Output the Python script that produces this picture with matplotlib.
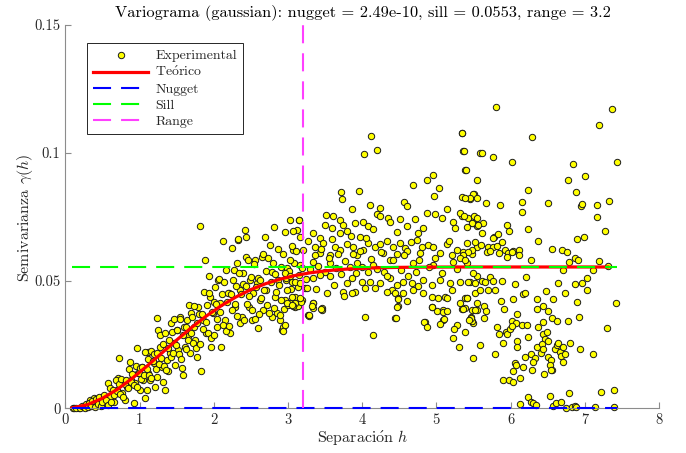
import matplotlib
matplotlib.use("Agg")
import matplotlib.pyplot as plt
import numpy as np

plt.rcParams["font.family"] = "serif"
plt.rcParams["font.serif"] = ["cmr10", "DejaVu Serif"]
plt.rcParams["mathtext.fontset"] = "cm"
plt.rcParams["axes.unicode_minus"] = False
plt.rcParams["axes.formatter.use_mathtext"] = True
plt.rcParams["lines.scale_dashes"] = False

# --- model parameters (from the title) ---
NUGGET = 2.49e-10
SILL = 0.0553
RANGE = 3.2
H_MIN, H_MAX = 0.09, 7.43

# --- experimental cloud (h, gamma) ---
pts_low = [
    (0.11, 0.0), (0.18, 0.0), (0.24, 0.0007), (0.33, 0.0033), (0.38, 0.004), (0.42, 0.002),
    (0.47, 0.0033), (0.51, 0.0013), (0.58, 0.0098), (0.6, 0.0046), (0.65, 0.0026), (0.69, 0.0072),
    (0.71, 0.0117), (0.73, 0.0196), (0.76, 0.0059), (0.8, 0.0033), (0.83, 0.0085), (0.87, 0.0183),
    (0.89, 0.0111), (0.92, 0.002), (0.94, 0.0098), (0.96, 0.0235), (0.98, 0.0137), (1.01, 0.0072),
    (1.03, 0.0163), (1.05, 0.0111), (1.07, 0.0039), (1.10, 0.0072), (1.11, 0.0222), (1.12, 0.0137),
    (1.14, 0.0111), (1.19, 0.0176), (1.21, 0.0085), (1.23, 0.0124), (1.24, 0.0352), (1.25, 0.0307),
    (1.28, 0.0241), (1.30, 0.0163), (1.32, 0.0104), (1.34, 0.0072), (1.37, 0.0189), (1.39, 0.0144),
    (1.41, 0.0215), (1.43, 0.0333), (1.46, 0.0255), (1.48, 0.017), (1.50, 0.0307), (1.52, 0.0228),
    (1.55, 0.0359), (1.57, 0.0157), (1.59, 0.0131), (1.61, 0.0241), (1.64, 0.0346), (1.66, 0.0281),
    (1.68, 0.0215), (1.70, 0.0372), (1.73, 0.032), (1.75, 0.0268), (1.77, 0.0202), (1.79, 0.0398),
    (1.82, 0.0715), (1.83, 0.0144), (1.86, 0.0346), (1.88, 0.0581), (1.90, 0.0294), (1.93, 0.0516),
    (1.95, 0.0437), (1.97, 0.0241), (1.99, 0.0372), (2.02, 0.0476), (2.04, 0.032), (2.06, 0.0503),
    (2.08, 0.0411), (2.10, 0.0241), (2.13, 0.0653), (2.15, 0.0346), (2.17, 0.0542), (2.20, 0.045),
    (2.22, 0.0294), (2.24, 0.0627), (2.26, 0.0503), (2.29, 0.0398), (2.31, 0.0568), (2.33, 0.0659),
    (2.35, 0.0463), (2.38, 0.0359), (2.40, 0.0529), (2.42, 0.0698), (2.44, 0.0594), (2.47, 0.0398),
    (2.49, 0.0503), (2.51, 0.0346), (2.53, 0.045), (2.56, 0.0581), (2.58, 0.049), (2.60, 0.0313),
    (2.62, 0.0424), (2.65, 0.0594), (2.67, 0.0385), (2.69, 0.0672), (2.71, 0.0463), (2.76, 0.064),
    (2.78, 0.0359), (2.80, 0.0568), (2.83, 0.0437), (2.85, 0.0372), (2.87, 0.0503), (2.89, 0.0346),
    (2.92, 0.0307), (2.94, 0.032), (2.96, 0.0424), (2.98, 0.0503), (3.03, 0.0411), (3.07, 0.062),
    (3.10, 0.0398), (3.12, 0.0698), (3.14, 0.0476),
    (3.03, 0.0737), (3.15, 0.0737), (2.81, 0.0711), (2.44, 0.0671), (2.33, 0.0663),
    (3.19, 0.0424), (3.23, 0.047), (3.275, 0.0365), (3.34, 0.0414), (3.455, 0.0392),
]

pts_dense = [
    (0.12, 0.0003), (0.15, 0.0001), (0.2, 0.0002), (0.22, 0.0009), (0.26, 0.0001), (0.28, 0.0015),
    (0.3, 0.0006), (0.32, 0.0022), (0.35, 0.001), (0.36, 0.0028), (0.4, 0.0005), (0.41, 0.0035),
    (0.44, 0.0018), (0.46, 0.0046), (0.48, 0.0008), (0.5, 0.0026), (0.52, 0.0052), (0.55, 0.0033),
    (0.57, 0.0012), (0.6, 0.008), (0.62, 0.0024), (0.64, 0.0072), (0.66, 0.0052), (0.68, 0.0111),
    (0.7, 0.0066), (0.72, 0.0094), (0.74, 0.0054), (0.75, 0.0116), (0.78, 0.0045), (0.8, 0.0094),
    (0.82, 0.0112), (0.84, 0.008), (0.86, 0.0155), (0.88, 0.0103), (0.9, 0.0135), (0.92, 0.009),
    (0.95, 0.0165), (0.97, 0.0083), (0.99, 0.0138), (1.0, 0.0158), (1.02, 0.0115), (1.04, 0.0162),
    (1.06, 0.0131), (1.08, 0.022), (1.1, 0.0153), (1.12, 0.0194), (1.13, 0.013), (1.15, 0.0226),
    (1.16, 0.012), (1.18, 0.0185), (1.2, 0.0214), (1.22, 0.0155), (1.24, 0.0216), (1.26, 0.0173),
    (1.27, 0.0288), (1.29, 0.0197), (1.31, 0.025), (1.33, 0.0167), (1.35, 0.0293), (1.36, 0.0151),
    (1.38, 0.0236), (1.4, 0.0269), (1.42, 0.0202), (1.44, 0.0297), (1.45, 0.0218), (1.47, 0.0349),
    (1.49, 0.0246), (1.51, 0.0305), (1.53, 0.0211), (1.54, 0.0349), (1.56, 0.0192), (1.58, 0.0287),
    (1.6, 0.0319), (1.62, 0.0232), (1.63, 0.0318), (1.65, 0.0266), (1.67, 0.0404), (1.69, 0.0295),
    (1.71, 0.0356), (1.72, 0.0255), (1.74, 0.0401), (1.76, 0.0235), (1.78, 0.0334), (1.8, 0.0369),
    (1.81, 0.0251), (1.84, 0.0368), (1.85, 0.031), (1.87, 0.0455), (1.89, 0.0339), (1.91, 0.0403),
    (1.92, 0.0295), (1.94, 0.045), (1.96, 0.0274), (1.98, 0.0378), (2.0, 0.0415), (2.01, 0.0285),
    (2.03, 0.041), (2.05, 0.0348), (2.07, 0.0505), (2.09, 0.0377), (2.11, 0.0447), (2.12, 0.0327),
    (2.14, 0.0496), (2.16, 0.0302), (2.18, 0.0415), (2.19, 0.045), (2.21, 0.0321), (2.23, 0.0446),
    (2.25, 0.0383), (2.27, 0.054), (2.28, 0.041), (2.3, 0.048), (2.32, 0.0362), (2.34, 0.053),
    (2.36, 0.0335), (2.37, 0.0447), (2.39, 0.0486), (2.41, 0.0344), (2.43, 0.0479), (2.45, 0.0409),
    (2.46, 0.0579), (2.48, 0.0438), (2.5, 0.0512), (2.52, 0.0383), (2.54, 0.0566), (2.55, 0.0351),
    (2.57, 0.0473), (2.59, 0.0511), (2.61, 0.037), (2.63, 0.0504), (2.64, 0.0433), (2.66, 0.0603),
    (2.68, 0.0462), (2.7, 0.0536), (2.72, 0.0406), (2.73, 0.0587), (2.75, 0.0373), (2.77, 0.0495),
    (2.79, 0.0533), (2.81, 0.0391), (2.82, 0.0524), (2.84, 0.0454), (2.86, 0.0623), (2.88, 0.0481),
    (2.9, 0.0554), (2.91, 0.0423), (2.93, 0.0605), (2.95, 0.039), (2.97, 0.0511), (2.99, 0.0549),
    (3.0, 0.0405), (3.01, 0.0538), (3.04, 0.0468), (3.05, 0.0637), (3.06, 0.0493), (3.08, 0.0567),
    (3.09, 0.0435), (3.11, 0.0616), (3.13, 0.0401), (3.15, 0.0522), (3.16, 0.0559), (3.18, 0.0416),
    (3.19, 0.0548),
]

pts_mid_high = [
    (4.116, 0.1064), (4.206, 0.1009), (4.026, 0.0996), (5.342, 0.1077), (5.365, 0.1005),
    (5.387, 0.0931), (5.59, 0.0999), (3.71, 0.0845), (3.725, 0.0819), (3.96, 0.0849),
    (4.69, 0.0875), (4.87, 0.0892), (4.95, 0.0914), (5.04, 0.0864), (4.97, 0.0832),
    (5.34, 0.0825), (5.46, 0.082), (5.51, 0.084), (4.56, 0.0809), (4.6, 0.0792),
    (3.865, 0.0779), (4.11, 0.0796), (4.24, 0.0783), (3.51, 0.0757), (3.613, 0.0751),
    (3.703, 0.0738), (3.748, 0.0718), (3.50, 0.0718), (3.59, 0.0705), (3.70, 0.0686),
    (3.846, 0.0676), (3.97, 0.0672), (3.905, 0.0725), (4.017, 0.0731), (4.084, 0.0712),
    (4.197, 0.0761), (4.24, 0.0751), (4.354, 0.0744), (4.377, 0.0731), (4.511, 0.074),
    (4.61, 0.0712), (4.713, 0.074), (4.758, 0.0686), (4.87, 0.0764), (4.983, 0.0761),
    (5.073, 0.0744), (5.14, 0.0779), (5.23, 0.0731), (5.253, 0.0705), (5.342, 0.0751),
    (5.432, 0.0744), (5.50, 0.0725), (5.544, 0.0712), (3.343, 0.0686), (3.433, 0.0666),
    (3.164, 0.0672), (3.074, 0.0692), (2.961, 0.0688), (3.155, 0.0735),
]

pts_mid_band = [
    (3.276, 0.0653), (3.366, 0.0633), (3.478, 0.0646), (3.635, 0.0633), (3.792, 0.0644),
    (3.882, 0.0633), (4.017, 0.062), (4.084, 0.0646), (4.174, 0.0633), (4.242, 0.0644),
    (4.421, 0.0633), (4.511, 0.0646), (4.579, 0.0627), (4.736, 0.0659), (4.803, 0.0633),
    (4.893, 0.064), (4.96, 0.0633), (5.14, 0.0644), (5.275, 0.062), (5.41, 0.0646),
    (5.545, 0.0633), (3.208, 0.062), (3.433, 0.0607), (3.568, 0.06), (3.703, 0.062),
    (3.927, 0.06), (4.287, 0.0607), (4.466, 0.0604), (4.601, 0.0614), (4.781, 0.0607),
    (5.05, 0.0607), (5.207, 0.06), (5.477, 0.0604),
    (3.343, 0.0574), (3.568, 0.0568), (3.927, 0.0568), (4.152, 0.0561), (4.377, 0.0581),
    (4.691, 0.0568), (4.96, 0.0561), (5.23, 0.0574), (5.41, 0.0568), (3.029, 0.0581),
    (3.3, 0.0545), (3.36, 0.0598), (3.41, 0.0555), (3.45, 0.0625), (3.5, 0.0535),
    (3.55, 0.0588), (3.6, 0.0662), (3.65, 0.0548), (3.68, 0.0605), (3.72, 0.0525),
    (3.77, 0.0578), (3.8, 0.0692), (3.83, 0.0552), (3.88, 0.0605), (3.92, 0.0528),
    (3.97, 0.0615), (4.0, 0.0552), (4.05, 0.0668), (4.08, 0.0535), (4.12, 0.0585),
    (4.15, 0.0702), (4.2, 0.0545), (4.25, 0.0612), (4.3, 0.0532), (4.34, 0.0655),
    (4.38, 0.0508), (4.42, 0.0582), (4.47, 0.0688), (4.52, 0.0542), (4.57, 0.0598),
    (4.62, 0.0518), (4.66, 0.0652), (4.72, 0.0535), (4.77, 0.0582), (4.82, 0.0705),
    (4.9, 0.0552), (4.98, 0.0588), (5.08, 0.0528), (5.17, 0.0655), (5.28, 0.0545),
    (5.36, 0.0612), (3.38, 0.0468), (3.62, 0.0482), (3.9, 0.0455), (4.18, 0.0472),
    (4.4, 0.0462), (4.75, 0.0478), (3.25, 0.0505), (3.52, 0.0452), (4.6, 0.0418),
]

pts_mid_low = [
    (2.961, 0.0529), (3.029, 0.0516), (3.096, 0.0496), (3.164, 0.049), (3.343, 0.0509),
    (3.433, 0.0522), (3.568, 0.0516), (3.792, 0.049), (3.86, 0.0509), (3.995, 0.0496),
    (4.107, 0.0496), (4.242, 0.049), (4.332, 0.0516), (4.466, 0.0483), (4.556, 0.0496),
    (4.668, 0.049), (4.826, 0.0503), (4.938, 0.0483), (5.05, 0.0503), (5.185, 0.049),
    (5.32, 0.0496), (5.455, 0.0496), (5.545, 0.0516), (2.984, 0.0463), (3.051, 0.0437),
    (3.096, 0.0411), (3.253, 0.047), (3.748, 0.0457), (4.04, 0.047), (4.332, 0.0457),
    (4.444, 0.045), (4.489, 0.0431), (4.556, 0.045), (4.691, 0.0463), (4.826, 0.045),
    (4.938, 0.0437), (5.028, 0.0431), (5.118, 0.0437), (5.207, 0.0463), (5.387, 0.0431),
    (5.522, 0.045), (4.489, 0.0401), (4.938, 0.0398), (5.005, 0.0379), (5.095, 0.0385),
    (5.14, 0.0431), (5.32, 0.0411), (5.387, 0.0392), (5.477, 0.0385), (3.343, 0.0392),
    (3.456, 0.0385), (2.984, 0.0411), (3.074, 0.0401), (3.289, 0.0362), (4.444, 0.0353),
    (4.848, 0.0339), (5.095, 0.0346), (5.455, 0.0349), (5.5, 0.0333), (5.545, 0.0411),
    (3.164, 0.0431),
    (3.051, 0.0405), (2.894, 0.0366), (2.961, 0.0326),
    (2.939, 0.0304), (3.289, 0.0366), (3.343, 0.0414), (3.33, 0.0401), (3.447, 0.0389),
    (3.761, 0.044), (3.86, 0.0453), (4.04, 0.0358), (4.143, 0.0288), (4.453, 0.0354),
    (4.466, 0.0398), (4.489, 0.0427), (4.835, 0.0339), (4.88, 0.0317), (4.938, 0.0398),
    (5.05, 0.0329), (5.109, 0.035), (5.095, 0.0375), (5.14, 0.0382), (5.23, 0.0274),
    (5.275, 0.0326), (5.239, 0.0309), (5.351, 0.0389), (5.41, 0.0431), (5.464, 0.0356),
    (5.477, 0.0343), (5.387, 0.0297), (5.311, 0.0241), (5.5, 0.0196), (5.589, 0.0248),
    (5.545, 0.0385), (5.643, 0.0355),
]

pts_far_high = [
    (5.804, 0.1178), (7.363, 0.1172), (7.197, 0.1107), (5.341, 0.1077), (6.285, 0.106),
    (5.373, 0.1005), (5.611, 0.0999), (5.768, 0.0982), (6.015, 0.0962), (7.43, 0.0962),
    (5.395, 0.0931), (6.846, 0.0957), (7.004, 0.091), (6.779, 0.0894), (5.553, 0.0894),
    (6.24, 0.0855), (6.887, 0.0845), (7.332, 0.0813), (6.15, 0.0806), (6.505, 0.0803),
    (5.665, 0.0803), (5.858, 0.0797), (7.161, 0.0795), (6.945, 0.0792), (6.958, 0.0798),
    (7.17, 0.0747), (5.499, 0.0839), (5.454, 0.0822), (5.544, 0.0822), (5.386, 0.0822),
    (6.159, 0.077), (5.319, 0.0764), (5.373, 0.0751), (5.508, 0.0753), (5.544, 0.0744),
    (5.634, 0.0727), (5.476, 0.0727), (5.418, 0.0711), (5.611, 0.0686), (5.566, 0.0718),
    (5.948, 0.0718), (5.984, 0.0692), (6.24, 0.0701), (7.273, 0.0692), (6.99, 0.0672),
    (6.891, 0.0663), (6.366, 0.0653), (5.782, 0.0672), (5.836, 0.0683), (5.759, 0.0666),
    (5.701, 0.0633), (5.768, 0.0633), (5.813, 0.0636), (5.881, 0.0649), (5.602, 0.064),
    (5.521, 0.0649), (5.476, 0.062), (5.431, 0.061), (5.364, 0.0601), (5.319, 0.0588),
    (5.386, 0.0581), (5.687, 0.061), (5.723, 0.0614), (5.849, 0.0607), (5.925, 0.062),
    (5.97, 0.0607), (6.038, 0.0614), (6.119, 0.062), (6.119, 0.06), (6.015, 0.0611),
    (5.948, 0.0594), (6.271, 0.0581), (6.554, 0.0623), (6.689, 0.0618), (6.766, 0.0611),
    (6.869, 0.0588), (6.914, 0.0581), (7.197, 0.0577), (6.792, 0.0574), (7.116, 0.0542),
    (6.712, 0.0542), (7.318, 0.0557),
]

pts_far_mid = [
    (5.499, 0.0529), (5.431, 0.0496), (5.521, 0.0492), (5.611, 0.05), (5.656, 0.0496),
    (5.723, 0.0513), (5.759, 0.05), (5.881, 0.0499), (6.06, 0.0487), (6.204, 0.0512),
    (6.644, 0.0492), (6.869, 0.0487), (6.959, 0.0492), (7.035, 0.0509), (7.026, 0.0463),
    (6.9, 0.0416), (6.478, 0.0458), (6.352, 0.0427), (6.577, 0.0427), (6.038, 0.0427),
    (5.867, 0.042), (5.791, 0.0461), (5.701, 0.0463), (5.589, 0.0463), (5.409, 0.0431),
    (5.355, 0.0389), (5.521, 0.0385), (5.642, 0.0401), (5.669, 0.0381), (5.916, 0.0388),
    (6.092, 0.0369), (6.442, 0.0401), (6.509, 0.0382), (6.352, 0.0389), (6.442, 0.0339),
    (6.563, 0.0353), (6.622, 0.0343), (6.779, 0.0343), (6.927, 0.0356), (6.015, 0.0343),
    (6.074, 0.0333), (6.15, 0.0324), (6.217, 0.0324), (5.467, 0.0353), (5.445, 0.0346),
    (7.417, 0.0414), (6.173, 0.0448), (6.2, 0.045), (6.734, 0.045), (5.813, 0.0317),
    (6.375, 0.0317), (7.296, 0.0313),
]

pts_far_low = [
    (5.795, 0.0211), (5.849, 0.0291), (5.894, 0.0254), (5.903, 0.0111), (5.984, 0.0111),
    (6.029, 0.0104), (5.939, 0.03), (5.948, 0.0291), (5.993, 0.0309), (6.016, 0.0322),
    (6.061, 0.0179), (6.038, 0.0146), (6.074, 0.017), (6.083, 0.0265), (6.092, 0.0241),
    (6.128, 0.0117), (6.173, 0.0163), (6.195, 0.0202), (6.24, 0.028), (6.272, 0.0211),
    (6.33, 0.0196), (6.353, 0.0239), (6.299, 0.018), (6.285, 0.015), (6.411, 0.0218),
    (6.442, 0.0291), (6.465, 0.027), (6.487, 0.03), (6.51, 0.0265), (6.42, 0.025),
    (6.442, 0.0231), (6.51, 0.02), (6.541, 0.0189), (6.532, 0.017), (6.555, 0.015),
    (6.6, 0.0232), (6.622, 0.0248), (6.645, 0.0254), (6.667, 0.0222), (6.676, 0.0205),
    (6.703, 0.0241), (6.734, 0.0213), (6.703, 0.0183), (6.451, 0.0134), (6.546, 0.015),
    (6.802, 0.0257), (6.937, 0.0232), (7.107, 0.0211),
    (6.128, 0.0016), (6.231, 0.0046), (6.272, 0.0026), (6.308, 0.0022), (6.344, 0.0013),
    (6.532, 0.0049), (6.577, 0.0009), (6.613, 0.0019), (6.681, 0.0026), (6.748, 0.0),
    (6.788, 0.0061), (6.824, 0.0006), (6.869, 0.001), (6.883, 0.0006), (7.139, 0.0004),
    (7.22, 0.0065), (7.399, 0.0072), (7.395, 0.0006),
]

# --- theoretical curve ---
H_TEO = [0.09, 0.3, 0.5, 0.7, 0.9, 1.1, 1.3, 1.5, 1.7, 1.9, 2.1, 2.3, 2.5, 2.7, 2.9,
         3.1, 3.3, 3.5, 3.7, 3.9, 4.1, 4.3, 4.5, 4.7, 4.9, 5.1, 5.3, 5.5, 6.0, 6.5, 7.0, 7.31]
G_TEO = [0.00013, 0.00144, 0.00391, 0.00739, 0.01168, 0.0165, 0.0216, 0.02669, 0.03159,
         0.0361, 0.04011, 0.04356, 0.04644, 0.04877, 0.05059, 0.05199, 0.05302, 0.05377,
         0.0543, 0.05466, 0.0549, 0.05505, 0.05515, 0.05521, 0.05525, 0.05527, 0.05529,
         0.0553, 0.0553, 0.0553, 0.0553, 0.0553]

all_pts = pts_low + pts_dense + pts_mid_high + pts_mid_band + pts_mid_low + pts_far_high + pts_far_mid + pts_far_low
h_exp = np.array([p[0] for p in all_pts])
g_exp = np.array([p[1] for p in all_pts])

fig = plt.figure(figsize=(6.86, 4.53), dpi=100)
ax = fig.add_axes([0.0952, 0.0987, 0.8654, 0.8461])

ax.scatter(h_exp, g_exp, s=21, facecolor="#ffff00", edgecolor="#1a1a1a", linewidths=0.7,
           zorder=2, clip_on=False, label="Experimental")
ax.plot(H_TEO, G_TEO, color="#ff0000", lw=2.3, zorder=3, label=r"Te$\acute{\mathrm{o}}$rico")
ax.plot([H_MIN, H_MAX], [NUGGET, NUGGET], color="#0000ff", lw=1.5, ls=(0, (13, 7.2)),
        zorder=4, clip_on=False, label="Nugget")
ax.plot([H_MIN, H_MAX], [SILL, SILL], color="#00ff00", lw=1.5, ls=(0, (13, 7.2)),
        zorder=5, label="Sill")
ax.plot([RANGE, RANGE], [0, 0.15], color="#ff40ff", lw=1.5, ls=(0, (13, 7.2)),
        zorder=6, clip_on=False, label="Range")

ax.set_xlim(0, 8)
ax.set_ylim(0, 0.15)
ax.set_xticks(range(9))
ax.set_xticklabels([str(i) for i in range(9)])
ax.set_yticks([0, 0.05, 0.1, 0.15])
ax.set_yticklabels(["0", "0.05", "0.1", "0.15"])
ax.spines[["top", "right"]].set_visible(False)
for s in ("left", "bottom"):
    ax.spines[s].set_color("#8c8c8c")
    ax.spines[s].set_linewidth(0.8)
ax.tick_params(direction="in", length=4, width=0.8, color="#8c8c8c",
               labelcolor="#262626", labelsize=10.5)

fig.text(0.5289, 0.971, "Variograma (gaussian): nugget = 2.49e-10, sill = 0.0553, range = 3.2",
         ha="center", va="center", fontsize=11.8, color="#000000")
fig.text(0.5289, 0.035, r"Separaci$\acute{\mathrm{o}}$n $h$", ha="center", va="center",
         fontsize=11.5, color="#262626")
fig.text(0.0364, 0.5188, r"Semivarianza $\gamma(h)$", ha="center", va="center",
         rotation=90, fontsize=11.5, color="#262626")

leg = ax.legend(loc="upper left", bbox_to_anchor=(0.036, 0.954), borderaxespad=0,
                fontsize=10, handlelength=4.0, handletextpad=0.5, labelspacing=0.25,
                borderpad=0.45, fancybox=False, framealpha=1, edgecolor="#262626",
                scatterpoints=1)
leg.get_frame().set_linewidth(0.7)
leg.legend_handles[0].set_sizes([21])
for t in leg.get_texts():
    t.set_color("#262626")

fig.savefig("out.png", dpi=100)
